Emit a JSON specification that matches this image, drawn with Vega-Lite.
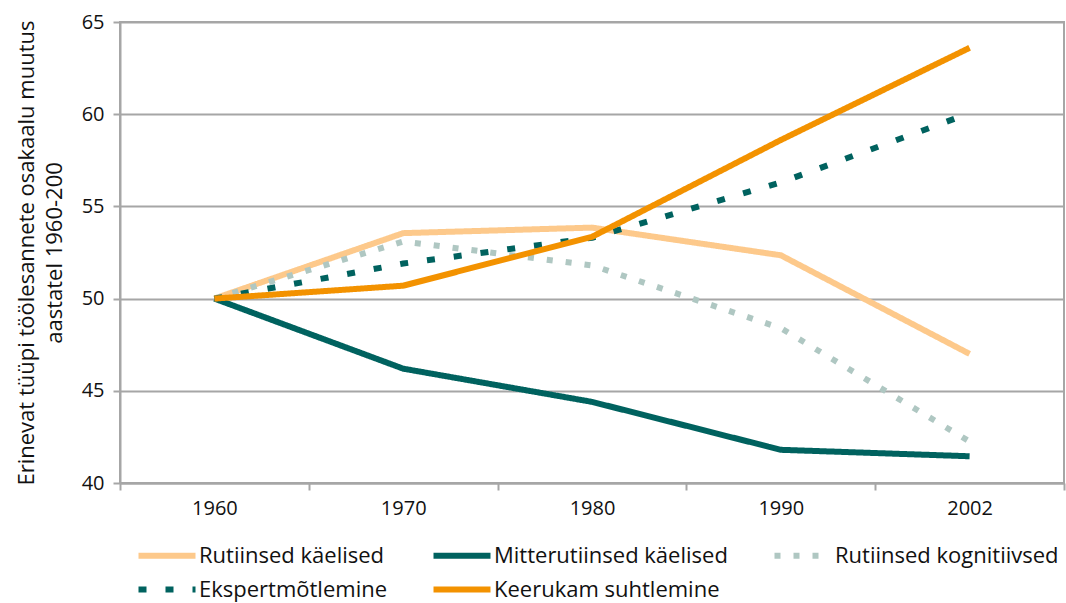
{
  "$schema": "https://vega.github.io/schema/vega-lite/v6.json",
  "width": 944,
  "height": 461,
  "autosize": {"type": "none"},
  "padding": {"left": 120, "top": 22, "right": 2, "bottom": 120},
  "background": "white",
  "config": {
    "font": "Open Sans",
    "view": {"stroke": "#A6A6A6", "strokeWidth": 2},
    "axis": {"labelFont": "Open Sans", "labelFontSize": 20, "labelColor": "#111", "titleFont": "Open Sans", "titleFontSize": 22, "titleFontWeight": "normal", "titleColor": "#111", "domainColor": "#A6A6A6", "domainWidth": 2, "tickColor": "#A6A6A6", "tickWidth": 2, "gridColor": "#A6A6A6", "gridWidth": 2},
    "legend": {"labelFont": "Open Sans", "labelFontSize": 22, "labelColor": "#111", "labelLimit": 400}
  },
  "data": {
    "values": [
      {"year": "1960", "series": "Rutiinsed käelised", "value": 50},
      {"year": "1970", "series": "Rutiinsed käelised", "value": 53.55},
      {"year": "1980", "series": "Rutiinsed käelised", "value": 53.85},
      {"year": "1990", "series": "Rutiinsed käelised", "value": 52.35},
      {"year": "2002", "series": "Rutiinsed käelised", "value": 47.0},
      {"year": "1960", "series": "Mitterutiinsed käelised", "value": 50},
      {"year": "1970", "series": "Mitterutiinsed käelised", "value": 46.2},
      {"year": "1980", "series": "Mitterutiinsed käelised", "value": 44.4},
      {"year": "1990", "series": "Mitterutiinsed käelised", "value": 41.8},
      {"year": "2002", "series": "Mitterutiinsed käelised", "value": 41.45},
      {"year": "1960", "series": "Rutiinsed kognitiivsed", "value": 50},
      {"year": "1970", "series": "Rutiinsed kognitiivsed", "value": 53.1},
      {"year": "1980", "series": "Rutiinsed kognitiivsed", "value": 51.8},
      {"year": "1990", "series": "Rutiinsed kognitiivsed", "value": 48.4},
      {"year": "2002", "series": "Rutiinsed kognitiivsed", "value": 42.25},
      {"year": "1960", "series": "Ekspertmõtlemine", "value": 50},
      {"year": "1970", "series": "Ekspertmõtlemine", "value": 51.9},
      {"year": "1980", "series": "Ekspertmõtlemine", "value": 53.3},
      {"year": "1990", "series": "Ekspertmõtlemine", "value": 56.3},
      {"year": "2002", "series": "Ekspertmõtlemine", "value": 60.05},
      {"year": "1960", "series": "Keerukam suhtlemine", "value": 50},
      {"year": "1970", "series": "Keerukam suhtlemine", "value": 50.7},
      {"year": "1980", "series": "Keerukam suhtlemine", "value": 53.35},
      {"year": "1990", "series": "Keerukam suhtlemine", "value": 58.6},
      {"year": "2002", "series": "Keerukam suhtlemine", "value": 63.6}
    ]
  },
  "encoding": {
    "x": {
      "field": "year", "type": "ordinal", "bandPosition": 0.5,
      "scale": {"type": "band", "paddingInner": 0, "paddingOuter": 0},
      "axis": {"title": null, "labelAngle": 0, "tickBand": "extent", "tickSize": 7, "labelPadding": 8, "grid": false}
    },
    "y": {
      "field": "value", "type": "quantitative",
      "scale": {"domain": [40, 65], "nice": false, "zero": false},
      "axis": {"values": [40, 45, 50, 55, 60, 65], "tickSize": 7, "labelPadding": 9, "title": ["Erinevat tüüpi töölesannete osakaalu muutus", "aastatel 1960-200"], "titlePadding": 15, "titleLineHeight": 28}
    },
    "color": {
      "field": "series", "type": "nominal",
      "scale": {"domain": ["Rutiinsed käelised", "Mitterutiinsed käelised", "Rutiinsed kognitiivsed", "Ekspertmõtlemine", "Keerukam suhtlemine"], "range": ["#FDC98B", "#00625F", "#AFC7C2", "#00625F", "#F39200"]},
      "legend": {"title": null, "orient": "none", "direction": "horizontal", "legendX": 34.5, "legendY": 521, "columns": 3, "columnPadding": 34, "rowPadding": 9, "symbolType": "M-3,0H3", "symbolSize": 361, "labelOffset": 19.5,
        "encode": {"symbols": {"update": {"strokeDash": {"signal": "datum.value == 'Ekspertmõtlemine' ? [7.5, 11.5] : datum.value == 'Rutiinsed kognitiivsed' ? [6, 14] : [1, 0]"}}}}}
    },
    "strokeDash": {
      "field": "series", "type": "nominal",
      "scale": {"domain": ["Rutiinsed käelised", "Mitterutiinsed käelised", "Rutiinsed kognitiivsed", "Ekspertmõtlemine", "Keerukam suhtlemine"], "range": [[1, 0], [1, 0], [6, 13], [8, 19], [1, 0]]},
      "legend": {"title": null, "orient": "none", "direction": "horizontal", "legendX": 34.5, "legendY": 521, "columns": 3, "columnPadding": 34, "rowPadding": 9, "symbolType": "M-3,0H3", "symbolSize": 361, "labelOffset": 19.5,
        "encode": {"symbols": {"update": {"strokeDash": {"signal": "datum.value == 'Ekspertmõtlemine' ? [7.5, 11.5] : datum.value == 'Rutiinsed kognitiivsed' ? [6, 14] : [1, 0]"}}}}}
    },
    "strokeWidth": {
      "field": "series", "type": "nominal",
      "scale": {"domain": ["Rutiinsed käelised", "Mitterutiinsed käelised", "Rutiinsed kognitiivsed", "Ekspertmõtlemine", "Keerukam suhtlemine"], "range": [6, 6, 6, 8, 6]},
      "legend": {"title": null, "orient": "none", "direction": "horizontal", "legendX": 34.5, "legendY": 521, "columns": 3, "columnPadding": 34, "rowPadding": 9, "symbolType": "M-3,0H3", "symbolSize": 361, "labelOffset": 19.5,
        "encode": {"symbols": {"update": {"strokeDash": {"signal": "datum.value == 'Ekspertmõtlemine' ? [7.5, 11.5] : datum.value == 'Rutiinsed kognitiivsed' ? [6, 14] : [1, 0]"}}}}}
    }
  },
  "mark": {"type": "line", "strokeCap": "butt", "strokeJoin": "round"}
}
